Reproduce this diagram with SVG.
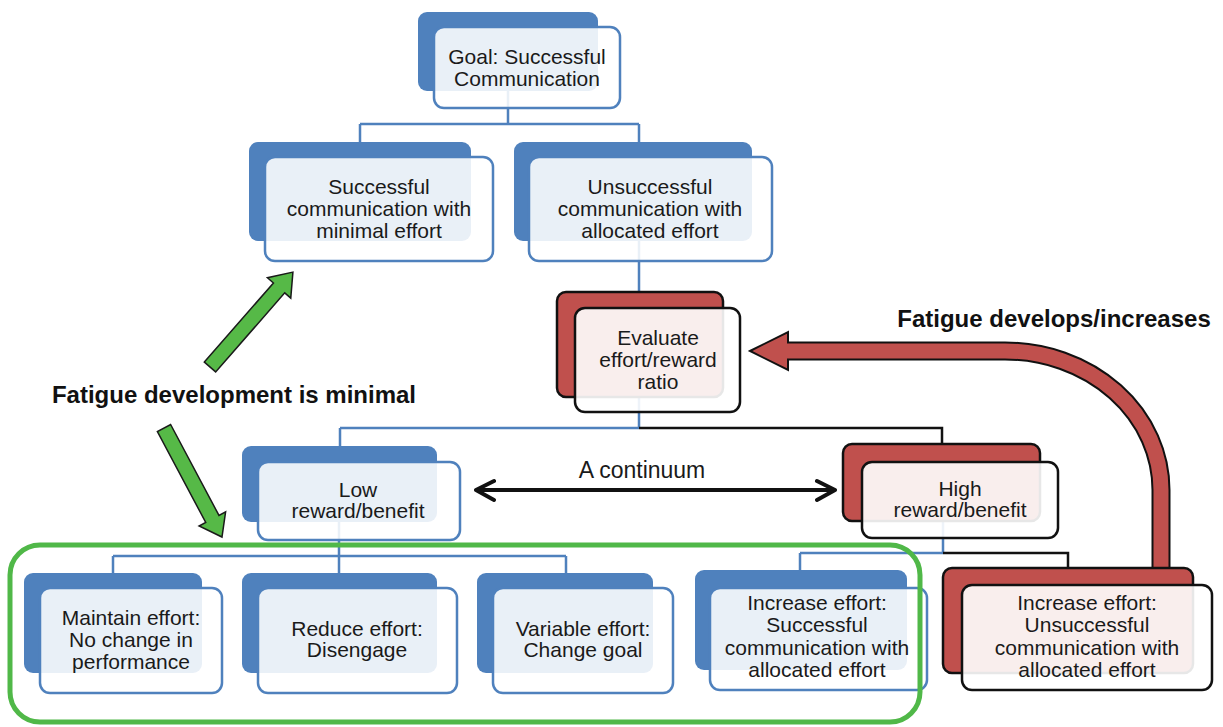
<svg xmlns="http://www.w3.org/2000/svg" width="1223" height="727" viewBox="0 0 1223 727">
<style>
.bb{fill:#4F81BD}
.fb{fill:#fff;fill-opacity:0.88;stroke:#4F81BD;stroke-width:2.5}
.br{fill:#C0504D;stroke:#111;stroke-width:2.5}
.fr{fill:#fff;fill-opacity:0.9;stroke:#111;stroke-width:2.5}
.t{font-family:"Liberation Sans",Arial,sans-serif;font-size:21px;fill:#1a1a1a;text-anchor:middle}
.lb{font-family:"Liberation Sans",Arial,sans-serif;font-weight:bold;font-size:24px;fill:#111;text-anchor:middle}
.cb{stroke:#4F81BD;stroke-width:2.5;fill:none}
.ck{stroke:#111;stroke-width:2.5;fill:none}
.ga{fill:#56B947;stroke:#1a1a1a;stroke-width:1.5;stroke-linejoin:miter}
</style>
<rect width="1223" height="727" fill="#fff"/>
<g id="connectors">
<path class="cb" d="M508 91V124M360 124H639M360 124V142M639 124V142M639 241V292M639 397V428M340 428H639M340 428V446M339 522V556M113 556H566M113 556V573M339 556V573M566 556V573M943 521V553M800 553H943M800 553V570"/>
<path class="ck" d="M639 428H942V444M943 553H1068V568"/>
</g>
<g id="fatigue-increase-arrow">
<path d="M780 351H1005A156 139 0 0 1 1161 490V568" fill="none" stroke="#111" stroke-width="19"/>
<polygon points="750,351 788,332 788,370" fill="#C0504D" stroke="#111" stroke-width="2"/>
<path d="M780 351H1005A156 139 0 0 1 1161 490V569" fill="none" stroke="#C0504D" stroke-width="15"/>
</g>
<g id="n-goal">
<rect class="bb" x="418" y="12" width="180" height="79" rx="9"/>
<rect class="fb" x="434" y="27" width="186" height="81" rx="10"/>
<text class="t" x="527" y="64">Goal: Successful</text>
<text class="t" x="527" y="86">Communication</text>
</g>
<g id="n-success">
<rect class="bb" x="249" y="142" width="222" height="99" rx="9"/>
<rect class="fb" x="265" y="157" width="228" height="104" rx="10"/>
<text class="t" x="379" y="194">Successful</text>
<text class="t" x="379" y="216">communication with</text>
<text class="t" x="379" y="238">minimal effort</text>
</g>
<g id="n-unsuccess">
<rect class="bb" x="514" y="142" width="238" height="99" rx="9"/>
<rect class="fb" x="529" y="157" width="243" height="104" rx="10"/>
<text class="t" x="650" y="194">Unsuccessful</text>
<text class="t" x="650" y="216">communication with</text>
<text class="t" x="650" y="238">allocated effort</text>
</g>
<g id="n-evaluate">
<rect class="br" x="557" y="292" width="166" height="105" rx="9"/>
<rect class="fr" x="575" y="308" width="165" height="104" rx="10"/>
<text class="t" x="658" y="345">Evaluate</text>
<text class="t" x="658" y="367">effort/reward</text>
<text class="t" x="658" y="389">ratio</text>
</g>
<g id="n-low">
<rect class="bb" x="242" y="446" width="195" height="76" rx="9"/>
<rect class="fb" x="258" y="462" width="202" height="78" rx="10"/>
<text class="t" x="358" y="497">Low</text>
<text class="t" x="358" y="518">reward/benefit</text>
</g>
<g id="n-high">
<rect class="br" x="843" y="444" width="197" height="77" rx="9"/>
<rect class="fr" x="862" y="462" width="196" height="76" rx="10"/>
<text class="t" x="960" y="496">High</text>
<text class="t" x="960" y="517">reward/benefit</text>
</g>
<g id="n-maintain">
<rect class="bb" x="24" y="573" width="178" height="100" rx="9"/>
<rect class="fb" x="40" y="588" width="182" height="105" rx="10"/>
<text class="t" x="131" y="625">Maintain effort:</text>
<text class="t" x="131" y="647">No change in</text>
<text class="t" x="131" y="669">performance</text>
</g>
<g id="n-reduce">
<rect class="bb" x="242" y="573" width="195" height="100" rx="9"/>
<rect class="fb" x="258" y="588" width="199" height="105" rx="10"/>
<text class="t" x="357" y="636">Reduce effort:</text>
<text class="t" x="357" y="657">Disengage</text>
</g>
<g id="n-variable">
<rect class="bb" x="477" y="573" width="176" height="100" rx="9"/>
<rect class="fb" x="493" y="588" width="180" height="105" rx="10"/>
<text class="t" x="583" y="636">Variable effort:</text>
<text class="t" x="583" y="657">Change goal</text>
</g>
<g id="n-increase-success">
<rect class="bb" x="695" y="570" width="212" height="100" rx="9"/>
<rect class="fb" x="710" y="588" width="217" height="102" rx="10"/>
<text class="t" x="817" y="610">Increase effort:</text>
<text class="t" x="817" y="632">Successful</text>
<text class="t" x="817" y="655">communication with</text>
<text class="t" x="817" y="677">allocated effort</text>
</g>
<g id="n-increase-unsuccess">
<rect class="br" x="943" y="568" width="250" height="105" rx="9"/>
<rect class="fr" x="962" y="585" width="250" height="105" rx="10"/>
<text class="t" x="1087" y="610">Increase effort:</text>
<text class="t" x="1087" y="632">Unsuccessful</text>
<text class="t" x="1087" y="655">communication with</text>
<text class="t" x="1087" y="677">allocated effort</text>
</g>
<g id="green-group">
<rect x="10" y="545" width="910" height="177" rx="30" fill="none" stroke="#50B848" stroke-width="5"/>
</g>
<g id="continuum">
<path d="M476 490H835M494 481L476 490L494 500M817 481L835 490L817 500" fill="none" stroke="#111" stroke-width="4" stroke-linecap="round" stroke-linejoin="round"/>
<text class="t" x="642" y="478" style="font-size:23px">A continuum</text>
</g>
<g id="green-arrows">
<polygon class="ga" transform="translate(210,367) rotate(-48.85)" points="0,-7.5 105,-7.5 105,-15.5 126,0 105,15.5 105,7.5 0,7.5"/>
<polygon class="ga" transform="translate(164,428) rotate(62)" points="0,-7.5 103,-7.5 103,-15 123.5,0 103,15 103,7.5 0,7.5"/>
</g>
<g id="labels">
<text class="lb" x="234" y="403">Fatigue development is minimal</text>
<text class="lb" x="1054" y="327">Fatigue develops/increases</text>
</g>
</svg>
